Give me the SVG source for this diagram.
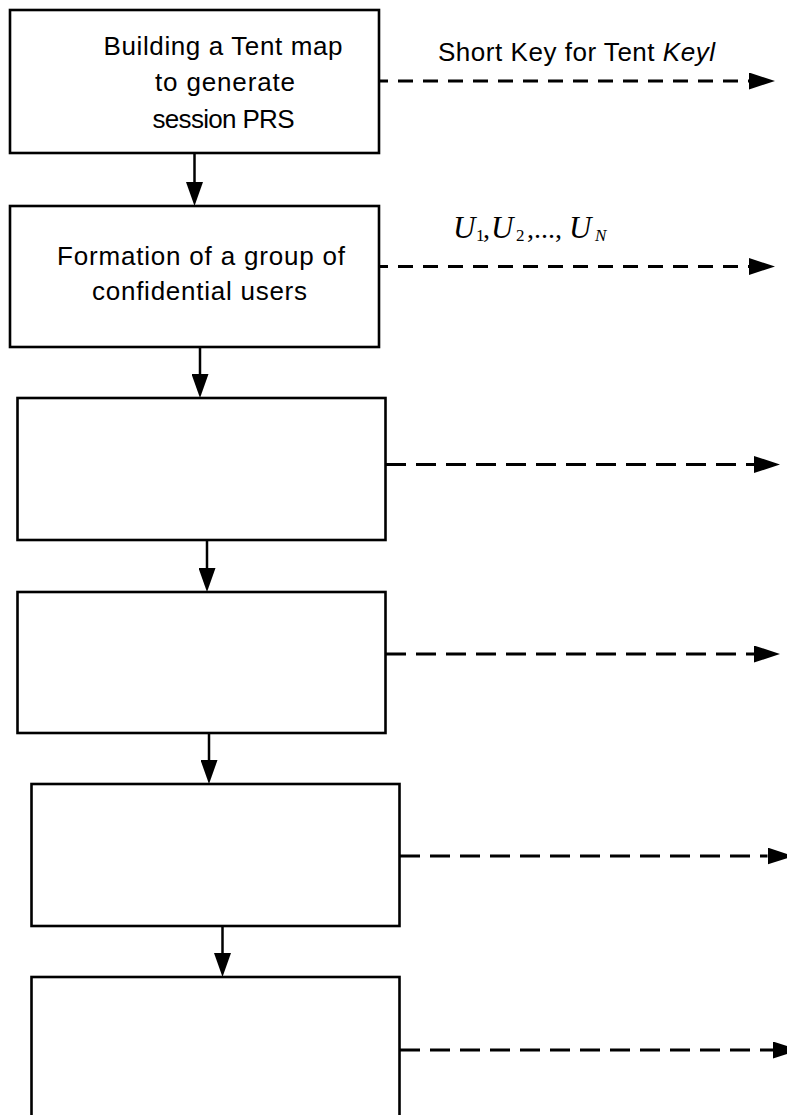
<svg xmlns="http://www.w3.org/2000/svg" width="787" height="1115" viewBox="0 0 787 1115">
<style>
.box{fill:#fff;stroke:#000;stroke-width:2.6}
.lbl{font-family:"Liberation Sans",Arial,sans-serif;font-size:26px;fill:#000;text-anchor:middle}
.flow{stroke:#000;stroke-width:2.5;fill:none}
.dashA{stroke:#000;stroke-width:3;fill:none;stroke-dasharray:15 10}
.dashB{stroke:#000;stroke-width:3;fill:none;stroke-dasharray:20 10}
.math{font-family:"Liberation Serif","Times New Roman",serif;font-style:italic;fill:#000}
</style>
<defs>
<marker id="vh" markerUnits="userSpaceOnUse" viewBox="0 0 24 17" refX="0" refY="8.5" markerWidth="24" markerHeight="17" orient="auto">
<path d="M0,0 L24,8.5 L0,17 Z" fill="#000"/>
</marker>
<marker id="hh" markerUnits="userSpaceOnUse" viewBox="0 0 26 17" refX="0" refY="8.5" markerWidth="26" markerHeight="17" orient="auto">
<path d="M0,0 L26,8.5 L0,17 Z" fill="#000"/>
</marker>
</defs>
<rect width="787" height="1115" fill="#fff"/>
<g id="connectors">
<line class="flow" x1="194.5" y1="153" x2="194.5" y2="182" marker-end="url(#vh)"/>
<line class="flow" x1="200" y1="347" x2="200" y2="374" marker-end="url(#vh)"/>
<line class="flow" x1="207" y1="540" x2="207" y2="568" marker-end="url(#vh)"/>
<line class="flow" x1="209" y1="733" x2="209" y2="760" marker-end="url(#vh)"/>
<line class="flow" x1="222.5" y1="926" x2="222.5" y2="953" marker-end="url(#vh)"/>
<line class="dashA" x1="379" y1="81" x2="749" y2="81" stroke-dashoffset="6" marker-end="url(#hh)"/>
<line class="dashA" x1="379" y1="266.5" x2="749" y2="266.5" stroke-dashoffset="6" marker-end="url(#hh)"/>
<line class="dashB" x1="386" y1="464.5" x2="754" y2="464.5" marker-end="url(#hh)"/>
<line class="dashB" x1="386" y1="654" x2="754" y2="654" marker-end="url(#hh)"/>
<line class="dashB" x1="400" y1="856" x2="767.5" y2="856" marker-end="url(#hh)"/>
<line class="dashB" x1="400" y1="1050" x2="773" y2="1050" marker-end="url(#hh)"/>
</g>
<g id="node1">
<rect class="box" x="10" y="10" width="369" height="143"/>
<text class="lbl" x="223" y="54.5" textLength="239">Building a Tent map</text>
<text class="lbl" x="225" y="91" textLength="140">to generate</text>
<text class="lbl" x="223.5" y="127.5" textLength="142">session PRS</text>
</g>
<g id="node2">
<rect class="box" x="10" y="206" width="369" height="141"/>
<text class="lbl" x="201" y="264.5" textLength="288">Formation of a group of</text>
<text class="lbl" x="199.5" y="299.5" textLength="215">confidential users</text>
</g>
<g id="node3">
<rect class="box" x="17.5" y="398" width="368" height="142"/>
</g>
<g id="node4">
<rect class="box" x="17.5" y="592" width="368" height="141"/>
</g>
<g id="node5">
<rect class="box" x="31.5" y="784" width="368" height="142"/>
</g>
<g id="node6">
<rect class="box" x="31.5" y="977" width="368" height="160"/>
</g>
<g id="label1">
<text class="lbl" x="576.5" y="61" textLength="277">Short Key for Tent <tspan font-style="italic">Keyl</tspan></text>
</g>
<g id="label2">
<text class="math" font-size="31" y="238"><tspan x="453">U</tspan><tspan x="491">U</tspan><tspan x="569">U</tspan></text>
<text font-family="Liberation Serif,'Times New Roman',serif" font-size="17" y="241" fill="#000"><tspan x="476">1</tspan><tspan x="516">2</tspan><tspan x="595" font-style="italic">N</tspan></text>
<text font-family="Liberation Serif,'Times New Roman',serif" font-size="28" y="238" fill="#000"><tspan x="483">,</tspan><tspan x="527">,...,</tspan></text>
</g>
</svg>
